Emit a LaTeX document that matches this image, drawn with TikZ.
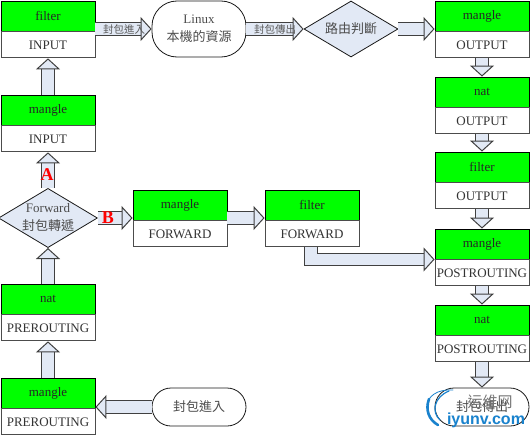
\documentclass[tikz,border=0pt]{standalone}
\usepackage{fontspec}
\setmainfont{Liberation Serif}
\setsansfont{Liberation Sans}
\newfontfamily\cjk{Noto Sans CJK TC}
\usepackage{tikz}
\usetikzlibrary{arrows.meta,positioning,shapes.geometric}
\definecolor{arrfill}{RGB}{226,233,245}
\definecolor{markblue}{RGB}{25,130,205}

\begin{document}
\begin{tikzpicture}[
  x=1pt, y=-1pt,
  node distance=0pt,
  tophalf/.style={draw=black, fill=green, line width=0.9pt, minimum width=94pt, minimum height=30pt, inner sep=0pt, font=\fontsize{13}{15}\selectfont, text=black!85},
  lowhalf/.style={draw=black!70, fill=white, line width=0.9pt, minimum width=94pt, minimum height=26pt, inner sep=0pt, font=\fontsize{13}{15}\selectfont, text=black!80},
  blob/.style={draw=black!90, line width=0.8pt, fill=white, rounded corners=19pt, minimum width=94pt, inner sep=0pt, align=center, font=\fontsize{13}{18}\selectfont, text=black!70},
  decide/.style={draw=black!90, line width=0.8pt, fill=arrfill, diamond, aspect=1.67, minimum width=94pt, minimum height=56pt, inner sep=0pt, align=center, font=\fontsize{13}{18}\selectfont, text=black!70},
  fatarr/.style={draw=black!75, line width=1pt, double=arrfill, double distance=11.5pt, -{Triangle[open, length=11pt, width=24pt, fill=arrfill]}},
  tag/.style={text=red, font=\bfseries\fontsize{18}{18}\selectfont, inner sep=0pt},
  onarr/.style={font=\cjk\fontsize{10.5}{11}\selectfont, text=black!65, inner sep=0pt},
  swirl/.style={draw=markblue, line cap=round}
]
\useasboundingbox (0,0) rectangle (530,436);
\fill[white] (0,0) rectangle (530,436);
% left column, bottom to top
\node[tophalf] (m1) at (48,393) {mangle};
\node[lowhalf, below=of m1] (m1b) {PREROUTING};
\node[tophalf] (n1) at (48,299) {nat};
\node[lowhalf, below=of n1] (n1b) {PREROUTING};
\node[decide] (fwd) at (48,218) {Forward\\{\cjk 封包轉遞}};
\node[tophalf] (m2) at (48,110) {mangle};
\node[lowhalf, below=of m2] (m2b) {INPUT};
\node[tophalf] (f1) at (48,16) {filter};
\node[lowhalf, below=of f1] (f1b) {INPUT};
% forward path
\node[tophalf] (m3) at (180,205) {mangle};
\node[lowhalf, below=of m3] (m3b) {FORWARD};
\node[tophalf] (f2) at (312,205) {filter};
\node[lowhalf, below=of f2] (f2b) {FORWARD};
% top row
\node[blob, rounded corners=25pt, minimum height=56pt] (host) at (199,29) {Linux\\{\cjk 本機的資源}};
\node[decide, font=\cjk\fontsize{13}{15}\selectfont] (route) at (351,29) {路由判斷};
% right column
\node[tophalf] (m4) at (482,16) {mangle};
\node[lowhalf, below=of m4] (m4b) {OUTPUT};
\node[tophalf] (n2) at (482,92) {nat};
\node[lowhalf, below=of n2] (n2b) {OUTPUT};
\node[tophalf] (f3) at (482,167) {filter};
\node[lowhalf, below=of f3] (f3b) {OUTPUT};
\node[tophalf] (m5) at (482,244) {mangle};
\node[lowhalf, below=of m5] (m5b) {POSTROUTING};
\node[tophalf] (n3) at (482,320) {nat};
\node[lowhalf, below=of n3] (n3b) {POSTROUTING};
% packets in and out
\node[blob, minimum height=38pt, font=\cjk\fontsize{13}{15}\selectfont] (pin) at (199,407) {封包進入};
\node[blob, minimum height=38pt, font=\cjk\fontsize{13}{15}\selectfont] (pout) at (482,407) {封包傳出};
\draw[fatarr] (pin.west) -- (pin.west -| m1.east);
\draw[fatarr] (m1) -- (n1b);
\draw[fatarr] (n1) -- (fwd);
\draw[fatarr] (fwd) -- (m2b);
\draw[fatarr] (m2) -- (f1b);
\draw[fatarr] (host.west -| f1.east) -- (host.west);
\draw[fatarr] (host.east) -- (route.west);
\draw[fatarr] (route.east) -- (route.east -| m4.west);
\draw[fatarr] (m4b) -- (n2);
\draw[fatarr] (n2b) -- (f3);
\draw[fatarr] (f3b) -- (m5);
\draw[fatarr] (m5b) -- (n3);
\draw[fatarr] (n3b) -- (pout);
\draw[fatarr] (fwd.east) -- (fwd.east -| m3.west);
\draw[fatarr] (fwd.east -| m3.east) -- (fwd.east -| f2.west);
\draw[fatarr] ([xshift=-1pt]f2b.south) |- (m5.south west);
\node[onarr] (lblin) at (124,29) {封包進入};
\node[onarr] (lblout) at (275,29) {封包傳出};
\node[tag] (tagA) at (47,175) {A};
\node[tag] (tagB) at (108,218) {B};
% site mark over the corner
\draw[swirl, line width=0.8pt] (453,390) .. controls (436,389) and (428,397) .. (427,405);
\draw[swirl, line width=2.6pt] (429,399) .. controls (425,410) and (429,420) .. (438,425);
\draw[swirl, line width=1.2pt] (449,391) .. controls (434,397) and (431,412) .. (440,420);
\node[font=\cjk\fontsize{15}{15}\selectfont, text=black!55, inner sep=0pt] (wmcn) at (490,402) {运维网};
\node[font=\sffamily\bfseries\fontsize{16}{16}\selectfont, text=markblue, inner sep=0pt] (wmen) at (486,420) {iyunv.com};
\end{tikzpicture}
\end{document}
